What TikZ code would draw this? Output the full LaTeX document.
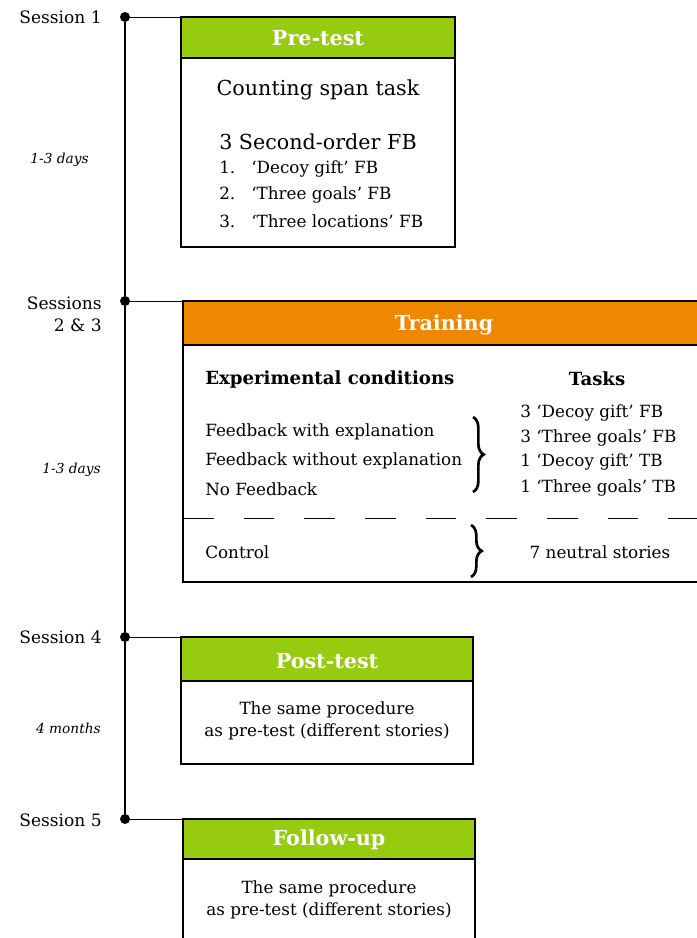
\documentclass[tikz,border=0pt]{standalone}
\usepackage{amsmath}
\usepackage{fontspec}
\setmainfont{DejaVu Serif}
\usepackage{tikz}
\usetikzlibrary{decorations.pathreplacing}

\definecolor{hdgreen}{RGB}{150,203,16}
\definecolor{hdorange}{RGB}{240,135,0}

\begin{document}
\begin{tikzpicture}[x=0.75pt,y=0.75pt,yscale=-1,xscale=1,
  dot/.style={circle,fill=black,inner sep=0pt,minimum size=7.5pt},
  sesslbl/.style={anchor=east,align=right,inner sep=0.75pt,font=\fontsize{12.8}{16.5}\selectfont},
  gaplbl/.style={anchor=east,inner sep=0.75pt,font=\fontsize{10.3}{12}\selectfont\itshape},
  hdtxt/.style={text=white,inner sep=0.75pt,font=\fontsize{15.5}{18}\selectfont\bfseries},
  bodytxt/.style={inner sep=0.75pt,font=\fontsize{12.6}{16}\selectfont},
  bigtxt/.style={inner sep=0.75pt,font=\fontsize{15.5}{18}\selectfont},
  curly/.style={decorate,decoration={brace,amplitude=8pt},line width=2pt},
]
\useasboundingbox (0,0) rectangle (696,938);

%Timeline dots
\node[dot] (s1) at (125,17) {};
\node[dot] (s2) at (125,301) {};
\node[dot] (s4) at (125,637) {};
\node[dot] (s5) at (125,819) {};
\draw[line width=0.9pt] (s1) -- (s2) -- (s4) -- (s5);

%Box corners
\coordinate (pre) at (181,17);
\coordinate (trn) at (183,301);
\coordinate (post) at (181,637);
\coordinate (fol) at (183,819);
\draw (s1) -- (pre);
\draw (s2) -- (trn);
\draw (s4) -- (post);
\draw (s5) -- (fol);

%Shape: Pre-test box
\draw[line width=0.9pt] (pre) rectangle (455,247);
\draw[line width=0.9pt,fill=hdgreen] (pre) rectangle (455,58);
%Shape: Training box
\draw[line width=0.9pt] (trn) rectangle (699,582);
\draw[line width=0.9pt,fill=hdorange] (trn) rectangle (699,345);
\draw[dash pattern=on 23pt off 22.5pt] (183,518) -- (699,518);
%Shape: Post-test box
\draw[line width=0.9pt] (post) rectangle (473,764);
\draw[line width=0.9pt,fill=hdgreen] (post) rectangle (473,681);
%Shape: Follow-up box
\draw[line width=0.9pt] (fol) rectangle (475,941);
\draw[line width=0.9pt,fill=hdgreen] (fol) rectangle (475,859);

% Text Node: sessions
\node[sesslbl] (l1) at (103,17) {Session 1};
\node[sesslbl] (l2) at (103,314) {Sessions\\2 \& 3};
\node[sesslbl] (l4) at (103,637) {Session 4};
\node[sesslbl] (l5) at (103,820) {Session 5};
\node[gaplbl] (g1) at (90,160) {1-3 days};
\node[gaplbl] (g2) at (102,470) {1-3 days};
\node[gaplbl] (g3) at (102,728) {4 months};

% Text Node: headers
\node[hdtxt] (hpre) at (318,38) {Pre-test};
\node[hdtxt] (htrn) at (444,325) {Training};
\node[hdtxt] (hpost) at (327,661) {Post-test};
\node[hdtxt] (hfol) at (329,840) {Follow-up};

% Text Node: pre-test
\node[bigtxt] (count) at (318,90) {Counting span task};
\node[bigtxt] (second) at (318,142) {3 Second-order FB};
\node[bodytxt,anchor=west] (it1) at (218,169) {\makebox[24pt][l]{1.}‘Decoy gift’ FB};
\node[bodytxt,anchor=west] (it2) at (218,195) {\makebox[24pt][l]{2.}‘Three goals’ FB};
\node[bodytxt,anchor=west] (it3) at (218,221) {\makebox[24pt][l]{3.}‘Three locations’ FB};

% Text Node: training
\node[bodytxt,anchor=west,font=\fontsize{13.6}{16}\selectfont\bfseries] (expc) at (204,379) {Experimental conditions};
\node[bodytxt,font=\fontsize{13.6}{16}\selectfont\bfseries] (tasks) at (597,379) {Tasks};
\node[bodytxt,anchor=west] (c1) at (204,432) {Feedback with explanation};
\node[bodytxt,anchor=west] (c2) at (204,461) {Feedback without explanation};
\node[bodytxt,anchor=west] (c3) at (204,489) {No Feedback};
\draw[curly] (473,417) -- (473,492);
\node[bodytxt,anchor=west] (t1) at (519,413) {3 ‘Decoy gift’ FB};
\node[bodytxt,anchor=west] (t2) at (519,438) {3 ‘Three goals’ FB};
\node[bodytxt,anchor=west] (t3) at (519,462) {1 ‘Decoy gift’ TB};
\node[bodytxt,anchor=west] (t4) at (519,488) {1 ‘Three goals’ TB};
\node[bodytxt,anchor=west] (ctrl) at (204,552) {Control};
\draw[curly] (471,525) -- (471,577);
\node[bodytxt] (neutral) at (600,552) {7 neutral stories};

% Text Node: post-test and follow-up
\node[bodytxt,align=center] (samepost) at (327,721) {The same procedure\\as pre-test (different stories)};
\node[bodytxt,align=center] (samefol) at (329,900) {The same procedure\\as pre-test (different stories)};

\end{tikzpicture}
\end{document}
